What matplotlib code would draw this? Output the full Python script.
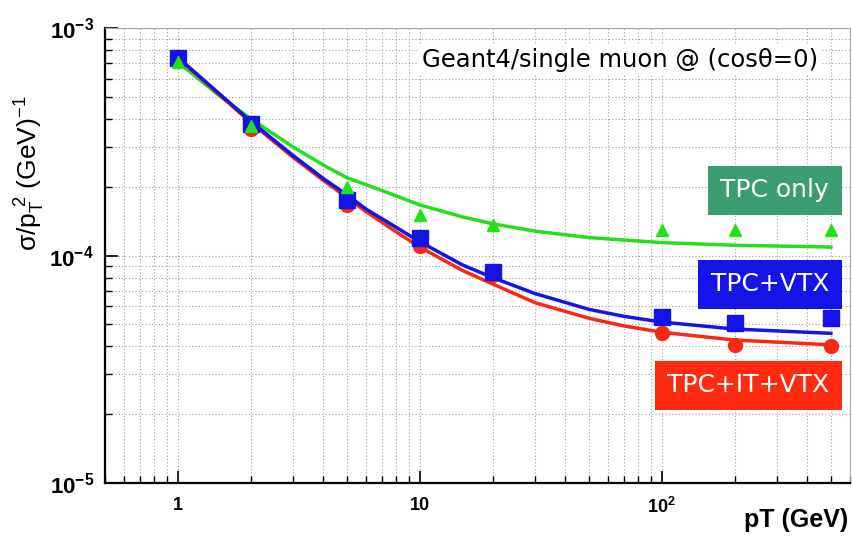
import numpy as np
import matplotlib
matplotlib.use("Agg")
import matplotlib.pyplot as plt
from matplotlib.ticker import LogLocator, FixedLocator, FixedFormatter, NullFormatter

# measured points
pt_pts = [1, 2, 5, 10, 20, 100, 200, 500]
tpc_only = [7.1e-4, 3.7e-4, 2.0e-4, 1.51e-4, 1.36e-4, 1.29e-4, 1.3e-4, 1.3e-4]
tpc_vtx = [7.4e-4, 3.8e-4, 1.75e-4, 1.2e-4, 8.5e-5, 5.37e-5, 5.05e-5, 5.3e-5]
tpc_it_vtx = [7.3e-4, 3.6e-4, 1.67e-4, 1.1e-4, 8.2e-5, 4.57e-5, 4.05e-5, 4.0e-5]

# fit curves
pt_fit = [1, 1.5, 2, 3, 4, 5, 6, 8, 10, 15, 20, 30, 50, 70, 100, 200, 500]
fit_tpc_only = [7.1e-4, 5.0e-4, 4.0e-4, 3.0e-4, 2.5e-4, 2.2e-4, 2.05e-4, 1.83e-4,
                1.67e-4, 1.48e-4, 1.38e-4, 1.28e-4, 1.2e-4, 1.17e-4, 1.14e-4,
                1.11e-4, 1.09e-4]
fit_tpc_vtx = [7.45e-4, 5.1e-4, 3.9e-4, 2.75e-4, 2.18e-4, 1.85e-4, 1.6e-4, 1.33e-4,
               1.15e-4, 9.1e-5, 8.0e-5, 6.8e-5, 5.8e-5, 5.4e-5, 5.1e-5, 4.75e-5,
               4.55e-5]
fit_tpc_it_vtx = [7.4e-4, 5.05e-4, 3.85e-4, 2.7e-4, 2.14e-4, 1.8e-4, 1.56e-4, 1.27e-4,
                  1.09e-4, 8.6e-5, 7.5e-5, 6.2e-5, 5.3e-5, 4.9e-5, 4.6e-5, 4.25e-5,
                  4.05e-5]

green = "#22e01a"
blue = "#1414e6"
red = "#f52a10"

plt.rcParams['font.family'] = ['DejaVu Sans']
plt.rcParams['mathtext.default'] = 'regular'

fig = plt.figure(figsize=(8.53, 5.42), dpi=100)
ax = fig.add_axes([0.123, 0.109, 0.8735, 0.839])
ax.set_xscale("log")
ax.set_yscale("log")
ax.set_xlim(0.5, 600)
ax.set_ylim(1e-5, 1e-3)

ax.plot(pt_fit, fit_tpc_only, color=green, lw=2.5, zorder=3)
ax.plot(pt_fit, fit_tpc_vtx, color=blue, lw=2.5, zorder=4)
ax.plot(pt_fit, fit_tpc_it_vtx, color=red, lw=2.5, zorder=3.5)

ax.plot(pt_pts, tpc_it_vtx, 'o', color=red, ms=10, zorder=5)
ax.plot(pt_pts, tpc_vtx, 's', color=blue, ms=11, zorder=6)
ax.plot(pt_pts, tpc_only, '^', color=green, ms=9, zorder=7)

# ticks and grid
ax.xaxis.set_major_locator(FixedLocator([1, 10, 100]))
ax.xaxis.set_major_formatter(FixedFormatter(["1", "10", "$10^2$"]))
ax.xaxis.set_minor_locator(LogLocator(base=10, subs=np.arange(2, 10), numticks=20))
ax.xaxis.set_minor_formatter(NullFormatter())
ax.yaxis.set_major_locator(FixedLocator([1e-5, 1e-4, 1e-3]))
ax.yaxis.set_major_formatter(FixedFormatter(["$10^{-5}$", "$10^{-4}$", "$10^{-3}$"]))
ax.yaxis.set_minor_locator(LogLocator(base=10, subs=np.arange(2, 10), numticks=20))
ax.yaxis.set_minor_formatter(NullFormatter())

ax.grid(True, which="both", color="#a0a0a0", ls=(0, (1, 2)), lw=0.8)
ax.tick_params(which="both", direction="in", top=False, right=False)
ax.tick_params(which="major", length=9, width=1.2)
ax.tick_params(which="minor", length=5, width=1)
ax.tick_params(axis="x", which="major", labelsize=13, pad=10)
ax.tick_params(axis="y", which="major", labelsize=16, pad=8)
for lab in ax.get_xticklabels() + ax.get_yticklabels():
    lab.set_fontweight("bold")
    lab.set_family("Liberation Sans")

for side in ["left", "bottom"]:
    ax.spines[side].set_linewidth(1.6)
for side in ["top", "right"]:
    ax.spines[side].set_color("#aaaaaa")
    ax.spines[side].set_linewidth(0.8)

fig.text(0.995, 0.04, "pT (GeV)", ha="right", va="center", fontsize=18,
         fontweight="bold", family="Liberation Sans")
fig.text(0.035, 0.68, r"$\sigma/p_T^{\ 2}$ (GeV)$^{-1}$", rotation=90, ha="center",
         va="center", fontsize=19, family="Liberation Sans")

ax.text(0.957, 0.93, "Geant4/single muon @ (cos\u03b8=0)", transform=ax.transAxes,
        ha="right", va="center", fontsize=17.5, zorder=8,
        bbox=dict(facecolor="white", edgecolor="none", pad=2))

boxes = [("TPC only", "#3c9c72", 0.644),
         ("TPC+VTX", blue, 0.437),
         ("TPC+IT+VTX", "#ff2a10", 0.215)]
for label, col, yy in boxes:
    ax.text(0.972, yy, label, transform=ax.transAxes, ha="right", va="center",
            fontsize=18, color="white", zorder=9,
            bbox=dict(facecolor=col, edgecolor="none", pad=9))

fig.savefig("out.png", dpi=100)
